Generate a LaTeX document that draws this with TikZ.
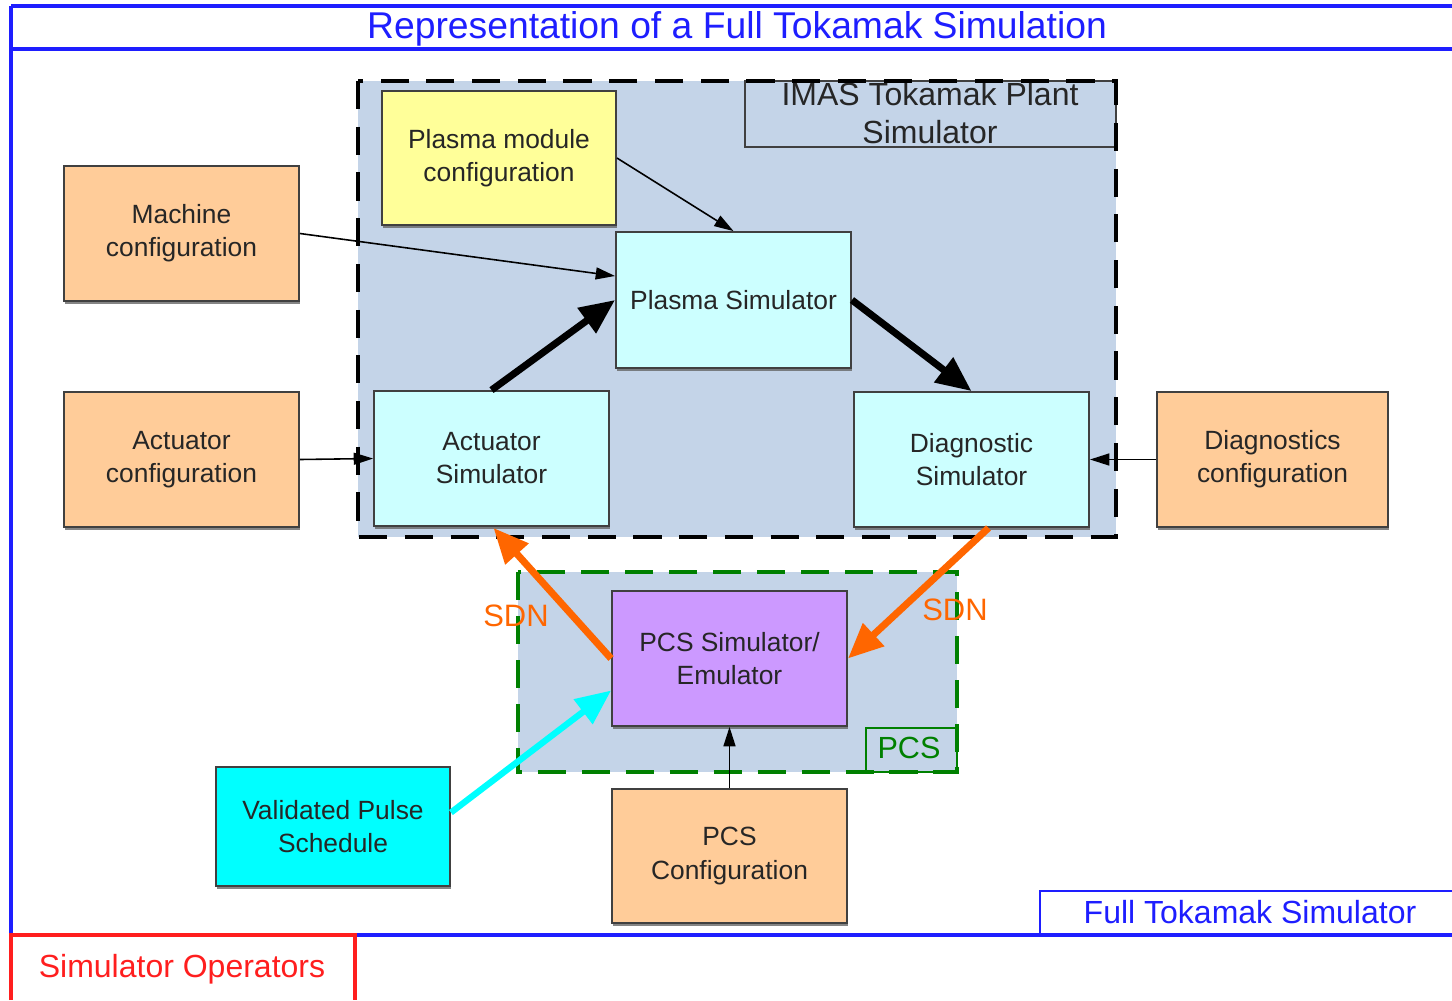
\documentclass[tikz,border=0pt]{standalone}
\usepackage{fontspec}
\setmainfont{Liberation Sans}
\usetikzlibrary{arrows.meta,calc,shadows}

\definecolor{frameblue}{RGB}{30,30,255}
\definecolor{plantbg}{RGB}{196,212,232}
\definecolor{cfgorange}{RGB}{255,204,153}
\definecolor{modyellow}{RGB}{255,255,153}
\definecolor{simcyan}{RGB}{204,255,255}
\definecolor{pcspurple}{RGB}{204,153,255}
\definecolor{pulsecyan}{RGB}{0,255,255}
\definecolor{sdnorange}{RGB}{255,102,0}
\definecolor{pcsgreen}{RGB}{0,128,0}
\definecolor{oprred}{RGB}{255,30,30}

\begin{document}
\begin{tikzpicture}[x=0.01cm,y=-0.01cm]
\tikzstyle{every node}+=[inner sep=0pt, align=center]
\tikzstyle{blk}=[draw=black!75, line width=0.5pt, minimum width=2.35cm, minimum height=1.35cm,
  font=\fontsize{7.5}{9.4}\selectfont, text=black!85,
  drop shadow={shadow xshift=0.3pt,shadow yshift=-0.9pt,fill=black!60,opacity=0.8}]
\tikzstyle{cfg}=[blk, fill=cfgorange]
\tikzstyle{sim}=[blk, fill=simcyan]
\tikzstyle{frame}=[draw=frameblue, line width=1pt]
\tikzstyle{feed}=[-{Triangle[length=5.5pt,width=3.4pt]}, line width=0.45pt]
\tikzstyle{flow}=[-{Triangle[length=10pt,width=8.5pt]}, line width=2pt]
\tikzstyle{sdn}=[flow, draw=sdnorange, fill=sdnorange]
\tikzstyle{push}=[flow, draw=pulsecyan, fill=pulsecyan, line width=1.8pt]
\tikzstyle{sdnlabel}=[text=sdnorange, font=\fontsize{8.8}{10}\selectfont]
\useasboundingbox (0,0) rectangle (1452,1000);

% outer frame
\draw[frame] (11,6) -- (1452,6);
\draw[frame] (11,49) -- (1452,49);
\draw[frame] (11,6) -- (11,935) -- (1452,935);
\node[text=frameblue, font=\fontsize{10.6}{12}\selectfont] (title) at (737,29) {Representation of a Full Tokamak Simulation};
\draw[draw=frameblue, line width=0.7pt] (1452,891) -- (1040,891) -- (1040,935);
\node[text=frameblue, font=\fontsize{9.1}{11}\selectfont] (fulllabel) at (1250,912) {Full Tokamak Simulator};
\draw[draw=oprred, line width=1pt] (11,1000) -- (11,935) -- (355,935) -- (355,1000);
\node[text=oprred, font=\fontsize{9.1}{11}\selectfont] (oprlabel) at (182,969) {Simulator Operators};

% plant simulator region
\fill[plantbg] (358,81) rectangle (1116,537);
\draw[black!75, line width=0.6pt] (745,81) rectangle (1116,147);
\node[font=\fontsize{9.1}{10.8}\selectfont, text=black!85] (imas) at (930,113) {IMAS Tokamak Plant\\Simulator};
\draw[black, line width=1.4pt, dash pattern=on 8pt off 5pt] (358,81) rectangle (1116,537);

% PCS region
\fill[plantbg] (518,572) rectangle (957,772);
\draw[pcsgreen, line width=1.2pt, dash pattern=on 8pt off 4.5pt] (518,572) rectangle (957,772);
\draw[pcsgreen, line width=0.5pt] (866,728) rectangle (957,772);
\node[text=pcsgreen, font=\fontsize{8.7}{10}\selectfont] (pcslabel) at (909,748) {PCS};

% blocks
\node[blk, fill=modyellow, minimum width=2.34cm, minimum height=1.34cm] (plasmacfg) at (499,158) {Plasma module\\configuration};
\node[sim, minimum height=1.36cm] (plasmasim) at (733.5,300) {Plasma Simulator};
\node[sim] (actsim) at (491.5,458.5) {Actuator\\Simulator};
\node[sim] (diagsim) at (971.5,459.5) {Diagnostic\\Simulator};
\node[cfg] (machcfg) at (181.5,233.5) {Machine\\configuration};
\node[cfg] (actcfg) at (181.5,459.5) {Actuator\\configuration};
\node[cfg, minimum width=2.31cm] (diagcfg) at (1272.5,459.5) {Diagnostics\\configuration};
\node[blk, fill=pcspurple] (pcssim) at (729.5,658.5) {PCS Simulator/\\Emulator};
\node[blk, fill=pulsecyan, minimum width=2.34cm, minimum height=1.19cm] (pulse) at (333,826.5) {Validated Pulse\\Schedule};
\node[cfg, minimum height=1.34cm] (pcscfg) at (729.5,856) {PCS\\Configuration};

% connectors
\draw[feed] (plasmacfg.east) -- (plasmasim.north);
\draw[feed] (machcfg.east) -- ($(plasmasim.west)+(0,-24)$);
\draw[flow] (actsim.north) -- (plasmasim.west);
\draw[flow] (plasmasim.east) -- (diagsim.north);
\draw[feed] (actcfg.east) -- (actsim.west);
\draw[feed] (diagcfg.west) -- (diagsim.east);
\draw[sdn] (pcssim.west) -- ($(actsim.south)+(2,1)$);
\draw[sdn] ($(diagsim.south)+(17,0)$) -- (pcssim.east);
\draw[push] ($(pulse.east)+(0,-14)$) -- ($(pcssim.west)+(0,32)$);
\draw[feed] (pcscfg.north) -- (pcssim.south);
\node[sdnlabel] (sdnleft) at (516,616) {SDN};
\node[sdnlabel] (sdnright) at (955,610) {SDN};
\end{tikzpicture}
\end{document}
